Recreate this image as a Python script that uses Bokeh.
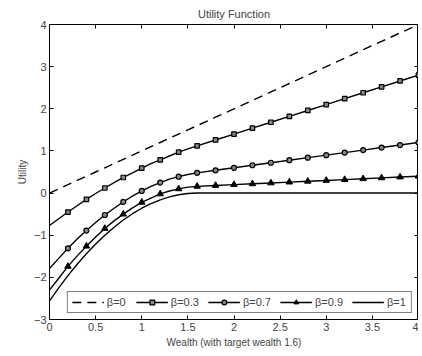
from bokeh.plotting import figure
from bokeh.models import LinearAxis, Range1d, FixedTicker, Legend, LegendItem
from bokeh.embed import file_html
from bokeh.resources import INLINE

# Wealth grid
wealth = [0.0, 0.1, 0.2, 0.3, 0.4, 0.5, 0.6, 0.7, 0.8, 0.9, 1.0, 1.1, 1.2, 1.3, 1.4, 1.5, 1.6,
          1.8, 2.0, 2.2, 2.4, 2.6, 2.8, 3.0, 3.2, 3.4, 3.6, 3.8, 4.0]
u_b0 = [0.0, 0.1, 0.2, 0.3, 0.4, 0.5, 0.6, 0.7, 0.8, 0.9, 1.0, 1.1, 1.2, 1.3, 1.4, 1.5, 1.6,
        1.8, 2.0, 2.2, 2.4, 2.6, 2.8, 3.0, 3.2, 3.4, 3.6, 3.8, 4.0]
u_b03 = [-0.77, -0.61, -0.45, -0.30, -0.15, -0.01, 0.12, 0.25, 0.37, 0.48, 0.59, 0.70, 0.79, 0.88, 0.97, 1.05, 1.12,
         1.26, 1.40, 1.54, 1.68, 1.82, 1.96, 2.10, 2.24, 2.38, 2.52, 2.66, 2.80]
u_b07 = [-1.79, -1.55, -1.31, -1.09, -0.89, -0.70, -0.52, -0.36, -0.21, -0.07, 0.05, 0.16, 0.25, 0.33, 0.39, 0.44, 0.48,
         0.54, 0.60, 0.66, 0.72, 0.78, 0.84, 0.90, 0.96, 1.02, 1.08, 1.14, 1.20]
u_b09 = [-2.30, -2.02, -1.74, -1.49, -1.26, -1.04, -0.84, -0.66, -0.50, -0.35, -0.22, -0.12, -0.02, 0.05, 0.10, 0.14, 0.16,
         0.18, 0.20, 0.22, 0.24, 0.26, 0.28, 0.30, 0.32, 0.34, 0.36, 0.38, 0.40]
u_b1 = [-2.56, -2.25, -1.96, -1.69, -1.44, -1.21, -1.00, -0.81, -0.64, -0.49, -0.36, -0.25, -0.16, -0.09, -0.04, -0.01, 0.0,
        0.0, 0.0, 0.0, 0.0, 0.0, 0.0, 0.0, 0.0, 0.0, 0.0, 0.0, 0.0]
labels = ["β=0", "β=0.3", "β=0.7", "β=0.9", "β=1"]
x_ticks = [0, 0.5, 1, 1.5, 2, 2.5, 3, 3.5, 4]
y_ticks = [-3, -2, -1, 0, 1, 2, 3, 4]

# marker positions: every 0.2 from 0.2 on
mk_idx = [i for i, w in enumerate(wealth) if w > 0 and abs(round(w * 5) - w * 5) < 1e-9]

FONT = "Liberation Sans"

p = figure(frame_width=369, frame_height=295, output_backend="svg", toolbar_location=None,
           x_range=Range1d(0, 4), y_range=Range1d(-3, 4),
           min_border_left=49, min_border_right=0, min_border_top=24, min_border_bottom=0)
p.title.text = "Utility Function"
p.title.align = "center"
p.title.text_font = FONT
p.title.text_font_size = "11px"
p.title.text_font_style = "normal"
p.title.offset = 0
p.title.standoff = 9
p.xgrid.visible = False
p.ygrid.visible = False
p.outline_line_color = "black"
p.outline_line_width = 1

for ax, ticks in ((p.xaxis[0], x_ticks), (p.yaxis[0], y_ticks)):
    ax.ticker = FixedTicker(ticks=ticks)
    ax.major_tick_in = 4
    ax.major_tick_out = 0
    ax.minor_tick_line_color = None
    ax.axis_line_color = "black"
    ax.major_label_text_font = FONT
    ax.major_label_text_font_size = "11px"
    ax.axis_label_text_font = FONT
    ax.axis_label_text_font_size = "10px"
    ax.axis_label_text_font_style = "normal"
    ax.major_label_standoff = 3

p.xaxis.axis_label = "Wealth (with target wealth 1.6)"
p.yaxis.axis_label = "Utility"
p.xaxis.axis_label_standoff = 3
p.yaxis.axis_label_standoff = 3

top = LinearAxis(ticker=FixedTicker(ticks=x_ticks), major_tick_in=4, major_tick_out=0,
                 minor_tick_line_color=None, major_label_standoff=0,
                 major_label_overrides={t: "" for t in x_ticks})
right = LinearAxis(ticker=FixedTicker(ticks=y_ticks), major_tick_in=4, major_tick_out=0,
                   minor_tick_line_color=None, major_label_standoff=0,
                   major_label_overrides={t: "" for t in y_ticks})
p.add_layout(top, "above")
p.add_layout(right, "right")

LW = 1.4
r0 = p.line(wealth, u_b0, line_color="black", line_width=LW, line_dash="9 6")
r1 = p.line(wealth, u_b03, line_color="black", line_width=LW)
m1 = p.scatter([wealth[i] for i in mk_idx], [u_b03[i] for i in mk_idx], marker="square",
               size=4.5, line_color="black", fill_color="#888888", line_width=1.2)
r2 = p.line(wealth, u_b07, line_color="black", line_width=LW)
m2 = p.scatter([wealth[i] for i in mk_idx], [u_b07[i] for i in mk_idx], marker="circle",
               size=5, line_color="black", fill_color="#888888", line_width=1.2)
r3 = p.line(wealth, u_b09, line_color="black", line_width=LW)
m3 = p.scatter([wealth[i] for i in mk_idx], [u_b09[i] for i in mk_idx], marker="triangle",
               size=6.5, line_color="black", fill_color="black", line_width=1)
r4 = p.line(wealth, u_b1, line_color="black", line_width=LW)

legend = Legend(items=[LegendItem(label=labels[0], renderers=[r0]),
                       LegendItem(label=labels[1], renderers=[r1, m1]),
                       LegendItem(label=labels[2], renderers=[r2, m2]),
                       LegendItem(label=labels[3], renderers=[r3, m3]),
                       LegendItem(label=labels[4], renderers=[r4])],
                orientation="horizontal", location="bottom_right")
legend.label_text_font = FONT
legend.label_text_font_size = "11px"
legend.glyph_width = 32
legend.glyph_height = 12
legend.label_standoff = 3
legend.spacing = 9
legend.padding = 4
legend.margin = 6
legend.border_line_color = "black"
legend.border_line_width = 1
legend.background_fill_alpha = 1
legend.label_height = 12
p.add_layout(legend)

open("out.html", "w").write(file_html(p, INLINE))
